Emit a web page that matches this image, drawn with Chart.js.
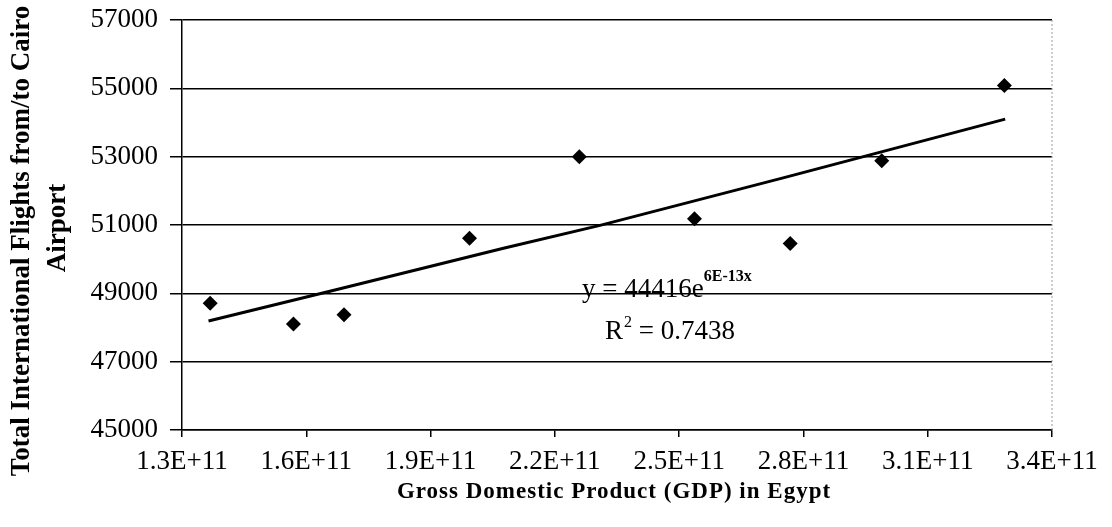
<!DOCTYPE html>
<html>
<head>
<meta charset="utf-8">
<script src="https://cdn.jsdelivr.net/npm/chart.js@4.4.1/dist/chart.umd.min.js"></script>
<style>
  html, body { margin: 0; padding: 0; background: #fff; }
  #wrap { width: 1112px; height: 527px; }
</style>
</head>
<body>
<div id="wrap"><canvas id="gdpChart"></canvas></div>
<script>
// observed points: GDP (x) vs international flights (y)
const gdpValues = [1.368e11, 1.569e11, 1.691e11, 1.994e11, 2.259e11, 2.537e11, 2.768e11, 2.989e11, 3.285e11];
const flightValues = [48710, 48100, 48370, 50610, 53000, 51180, 50460, 52880, 55080];

// exponential trendline
const trendX = [1.364e11, 1.657e11, 2.076e11, 2.309e11, 2.751e11, 3.287e11];
const trendY = [48190, 49060, 50320, 50990, 52380, 54100];

const xTicks = { min: 1.3e11, max: 3.4e11, step: 3e10 };
const yTicks = { min: 45000, max: 57000, step: 2000 };

const xTitle = 'Gross Domestic Product (GDP) in Egypt';
const yTitle = ['Total International Flights from/to Cairo', 'Airport'];
const eqMain = 'y = 44416e';
const eqExp = '6E-13x';
const eqR2 = ['R', '2', ' = 0.7438'];

const serif = '"Liberation Serif", "Times New Roman", serif';

// axis titles, equation text and the dotted right border
const extras = {
  id: 'extras',
  afterDatasetsDraw(chart) {
    const ctx = chart.ctx;
    const area = chart.chartArea;
    ctx.save();

    ctx.strokeStyle = '#999';
    ctx.lineWidth = 1;
    ctx.setLineDash([2, 2]);
    ctx.beginPath();
    ctx.moveTo(area.right, area.top);
    ctx.lineTo(area.right, area.bottom);
    ctx.stroke();
    ctx.setLineDash([]);

    ctx.fillStyle = '#000';
    ctx.textAlign = 'center';
    ctx.textBaseline = 'middle';

    ctx.font = 'bold 23px ' + serif;
    if ('letterSpacing' in ctx) ctx.letterSpacing = '1px';
    ctx.fillText(xTitle, 614, 492);
    if ('letterSpacing' in ctx) ctx.letterSpacing = '0px';

    ctx.save();
    ctx.translate(22, 241);
    ctx.rotate(-Math.PI / 2);
    ctx.font = 'bold 27px ' + serif;
    ctx.fillText(yTitle[0], 0, 0);
    ctx.fillText(yTitle[1], 13, 36);
    ctx.restore();

    ctx.textAlign = 'left';
    ctx.textBaseline = 'alphabetic';
    ctx.font = '27px ' + serif;
    ctx.fillText(eqMain, 582, 297);
    let w = ctx.measureText(eqMain).width;
    ctx.font = 'bold 16px ' + serif;
    ctx.fillText(eqExp, 582 + w, 281);

    ctx.font = '27px ' + serif;
    ctx.fillText(eqR2[0], 605, 339);
    w = ctx.measureText(eqR2[0]).width;
    ctx.font = '16px ' + serif;
    ctx.fillText(eqR2[1], 605 + w + 1, 327);
    const w2 = ctx.measureText(eqR2[1]).width;
    ctx.font = '27px ' + serif;
    ctx.fillText(eqR2[2], 605 + w + w2 + 1, 339);

    ctx.restore();
  }
};

const ctx = document.getElementById('gdpChart').getContext('2d');

new Chart(ctx, {
  type: 'scatter',
  data: {
    datasets: [
      {
        label: 'Flights',
        data: gdpValues.map((x, i) => ({ x: x, y: flightValues[i] })),
        pointStyle: 'rectRot',
        pointRadius: 7.5,
        pointHoverRadius: 7.5,
        backgroundColor: '#000',
        borderColor: '#000',
        borderWidth: 0,
        order: 1
      },
      {
        label: 'Trend',
        type: 'line',
        data: trendX.map((x, i) => ({ x: x, y: trendY[i] })),
        showLine: true,
        pointRadius: 0,
        borderColor: '#000',
        borderWidth: 3,
        fill: false,
        tension: 0,
        order: 2
      }
    ]
  },
  options: {
    responsive: true,
    maintainAspectRatio: false,
    animation: false,
    layout: { padding: { top: 0, right: 60, left: 0, bottom: 0 } },
    plugins: {
      legend: { display: false },
      tooltip: { enabled: false }
    },
    scales: {
      x: {
        type: 'linear',
        min: xTicks.min,
        max: xTicks.max,
        afterFit: (scale) => { scale.height = 97; },
        ticks: {
          stepSize: xTicks.step,
          color: '#000',
          padding: 9,
          maxRotation: 0,
          font: { family: serif, size: 27 },
          callback: (v) => (v / 1e11).toFixed(1) + 'E+11'
        },
        grid: { drawOnChartArea: false, drawTicks: true, tickLength: 7, color: '#000', lineWidth: 1.5 },
        border: { color: '#000', width: 1.5 }
      },
      y: {
        min: yTicks.min,
        max: yTicks.max,
        afterFit: (scale) => {
          scale.width = 182;
          scale.paddingTop = 20;
          scale.paddingBottom = 0;
        },
        ticks: {
          stepSize: yTicks.step,
          color: '#000',
          padding: 12,
          font: { family: serif, size: 27 },
          callback: (v) => String(v)
        },
        grid: { color: '#000', lineWidth: 1.5, tickLength: 12 },
        border: { color: '#000', width: 1.5 }
      }
    }
  },
  plugins: [extras]
});
</script>
</body>
</html>
